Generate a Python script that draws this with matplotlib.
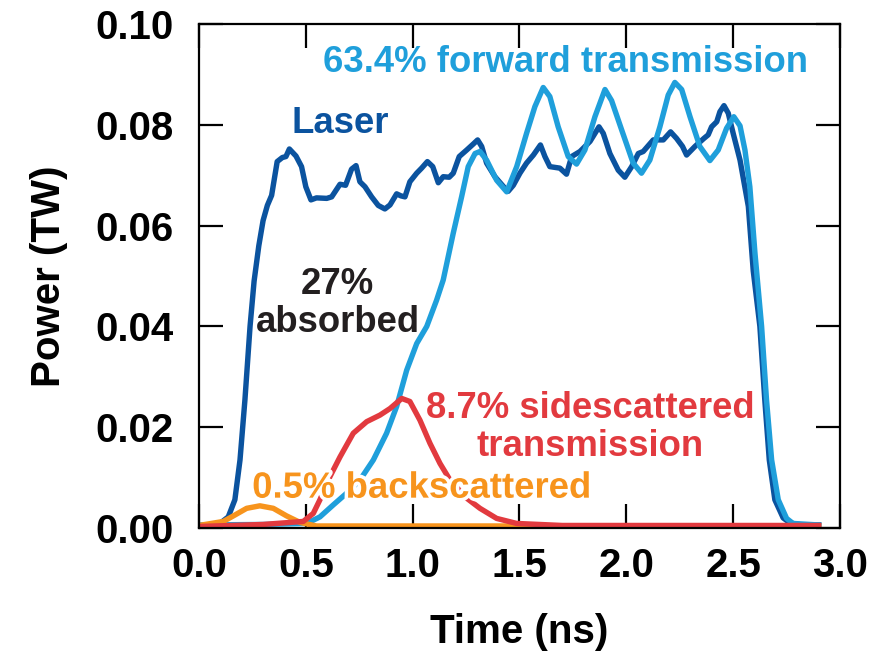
import matplotlib
matplotlib.use("Agg")
import matplotlib.pyplot as plt
import matplotlib.patheffects as pe

# laser pulse (dark blue)
laser_t = [0.0, 0.05, 0.098, 0.137, 0.168, 0.192, 0.215, 0.239, 0.258, 0.28, 0.30, 0.32, 0.34,
           0.366, 0.39, 0.407, 0.423, 0.454, 0.48, 0.50, 0.524, 0.55, 0.598, 0.621, 0.66, 0.686,
           0.714, 0.735, 0.753, 0.777, 0.808, 0.839, 0.87, 0.894, 0.925, 0.945, 0.964, 0.987,
           1.019, 1.042, 1.069, 1.094, 1.12, 1.143, 1.171, 1.19, 1.218, 1.253, 1.284, 1.304,
           1.323, 1.346, 1.385, 1.432, 1.447, 1.471, 1.502, 1.533, 1.565, 1.598, 1.619, 1.642,
           1.689, 1.72, 1.744, 1.783, 1.83, 1.872, 1.892, 1.923, 1.962, 1.993, 2.025, 2.056,
           2.079, 2.126, 2.173, 2.207, 2.235, 2.263, 2.282, 2.321, 2.363, 2.383, 2.399, 2.423,
           2.438, 2.457, 2.477, 2.50, 2.532, 2.571, 2.594, 2.625, 2.648, 2.669, 2.695, 2.734,
           2.766, 2.82, 2.9]
laser_p = [0.0005, 0.0005, 0.0009, 0.0022, 0.0056, 0.0135, 0.0254, 0.0400, 0.0490, 0.0560,
           0.0610, 0.0640, 0.0660, 0.0727, 0.0735, 0.0737, 0.0752, 0.0738, 0.0717, 0.0677,
           0.0651, 0.0655, 0.0654, 0.0657, 0.0682, 0.0680, 0.0712, 0.0719, 0.0687, 0.0677,
           0.0657, 0.0640, 0.0633, 0.0641, 0.0663, 0.0659, 0.0657, 0.0687, 0.0704, 0.0714,
           0.0727, 0.0717, 0.0685, 0.0697, 0.0696, 0.0704, 0.0737, 0.0750, 0.0762, 0.0770,
           0.0757, 0.0724, 0.0697, 0.0674, 0.0668, 0.0680, 0.0704, 0.0724, 0.0740, 0.0760,
           0.0737, 0.0717, 0.0714, 0.0702, 0.0737, 0.0747, 0.0767, 0.0796, 0.0783, 0.0743,
           0.0710, 0.0696, 0.0717, 0.0743, 0.0747, 0.0770, 0.0770, 0.0786, 0.0773, 0.0757,
           0.0740, 0.0757, 0.0773, 0.0780, 0.0796, 0.0806, 0.0826, 0.0838, 0.0823, 0.0783,
           0.0730, 0.0638, 0.0510, 0.0400, 0.0254, 0.0135, 0.0056, 0.0020, 0.0010, 0.0006,
           0.0006]

# forward transmission (light blue)
fwd_t = [0.0, 0.3, 0.504, 0.566, 0.629, 0.691, 0.753, 0.816, 0.878, 0.925, 0.972, 1.019, 1.066,
         1.112, 1.143, 1.19, 1.229, 1.26, 1.292, 1.315, 1.346, 1.393, 1.44, 1.487, 1.533, 1.572,
         1.611, 1.642, 1.681, 1.728, 1.767, 1.806, 1.853, 1.90, 1.931, 1.978, 2.032, 2.071, 2.11,
         2.157, 2.196, 2.227, 2.259, 2.298, 2.344, 2.391, 2.43, 2.469, 2.503, 2.532, 2.555,
         2.578, 2.602, 2.633, 2.656, 2.68, 2.711, 2.75, 2.78, 2.9]
fwd_p = [0.0006, 0.0007, 0.0009, 0.0022, 0.0046, 0.0069, 0.0095, 0.0135, 0.0188, 0.0241,
         0.0313, 0.0366, 0.0400, 0.0452, 0.0492, 0.0585, 0.0657, 0.0717, 0.0743, 0.0747,
         0.0730, 0.0690, 0.0667, 0.0717, 0.0783, 0.0836, 0.0874, 0.0856, 0.0796, 0.0737,
         0.0722, 0.0750, 0.0816, 0.0870, 0.0848, 0.0790, 0.0724, 0.0704, 0.0730, 0.0796,
         0.0859, 0.0884, 0.0870, 0.0816, 0.0757, 0.0729, 0.0750, 0.0793, 0.0816, 0.0798,
         0.0750, 0.0677, 0.0545, 0.0400, 0.0254, 0.0135, 0.0056, 0.0019, 0.0009, 0.0006]

# backscattered (orange)
back_t = [0.0, 0.114, 0.161, 0.223, 0.285, 0.348, 0.41, 0.473, 0.55, 1.5, 2.9]
back_p = [0.0005, 0.0013, 0.0024, 0.0039, 0.0044, 0.0039, 0.0024, 0.0011, 0.0004, 0.0004, 0.0004]

# sidescattered transmission (red)
side_t = [0.0, 0.3, 0.488, 0.535, 0.566, 0.613, 0.66, 0.722, 0.785, 0.847, 0.894, 0.949, 0.987,
          1.034, 1.081, 1.128, 1.175, 1.25, 1.315, 1.393, 1.487, 1.7, 2.9]
side_p = [0.0003, 0.0007, 0.0013, 0.0029, 0.0056, 0.0102, 0.0141, 0.0188, 0.0211, 0.0224,
          0.0237, 0.0257, 0.0251, 0.0214, 0.0168, 0.0128, 0.0095, 0.0060, 0.0039, 0.0019,
          0.0009, 0.0005, 0.0005]

dark_blue = "#0b539f"
light_blue = "#1f9fdb"
red = "#e23a3f"
orange = "#f7941d"
ink = "#231f20"

plt.rcParams["font.family"] = ["Liberation Sans", "DejaVu Sans"]
plt.rcParams["font.weight"] = "bold"

fig = plt.figure(figsize=(8.82, 6.52), dpi=100)
ax = fig.add_axes([0.2256, 0.1902, 0.7268, 0.773])

lw = 3.9
ax.plot(laser_t, laser_p, color=dark_blue, lw=lw, solid_joinstyle="round")
ax.plot(fwd_t, fwd_p, color=light_blue, lw=lw, solid_joinstyle="round")
ax.plot(back_t, back_p, color=orange, lw=lw, solid_joinstyle="round")
ax.plot(side_t, side_p, color=red, lw=lw, solid_joinstyle="round")

ax.set_xlim(0, 3)
ax.set_ylim(0, 0.1)
ax.set_xticks([0.0, 0.5, 1.0, 1.5, 2.0, 2.5, 3.0])
ax.set_xticklabels(["0.0", "0.5", "1.0", "1.5", "2.0", "2.5", "3.0"])
ax.set_yticks([0.0, 0.02, 0.04, 0.06, 0.08, 0.10])
ax.set_yticklabels(["0.00", "0.02", "0.04", "0.06", "0.08", "0.10"])
ax.tick_params(direction="in", length=17, width=1.6, labelsize=29, top=True, right=True)
ax.tick_params(axis="x", pad=14)
ax.tick_params(axis="y", pad=18)
for s in ax.spines.values():
    s.set_linewidth(1.6)

ax.set_xlabel("Time (ns)", fontsize=29, fontweight="bold", labelpad=20)
ax.set_ylabel("Power (TW)", fontsize=29, fontweight="bold", labelpad=20)

tfs = 26.3
ax.text(1.713, 0.0923, "63.4% forward transmission", color=light_blue, fontsize=tfs,
        fontweight="bold", ha="center", va="center")
ax.text(0.66, 0.0802, "Laser", color=dark_blue, fontsize=tfs, fontweight="bold",
        ha="center", va="center")
ax.text(0.65, 0.0446, "27%\nabsorbed", color=ink, fontsize=tfs, fontweight="bold",
        ha="center", va="center", linespacing=1.1)
ax.text(1.83, 0.0200, "8.7% sidescattered\ntransmission", color=red, fontsize=tfs,
        fontweight="bold", ha="center", va="center", linespacing=1.1)
ax.text(1.042, 0.0079, "0.5% backscattered", color=orange, fontsize=tfs, fontweight="bold",
        ha="center", va="center",
        path_effects=[pe.withStroke(linewidth=5, foreground="white")])

fig.savefig("out.png", dpi=100)
